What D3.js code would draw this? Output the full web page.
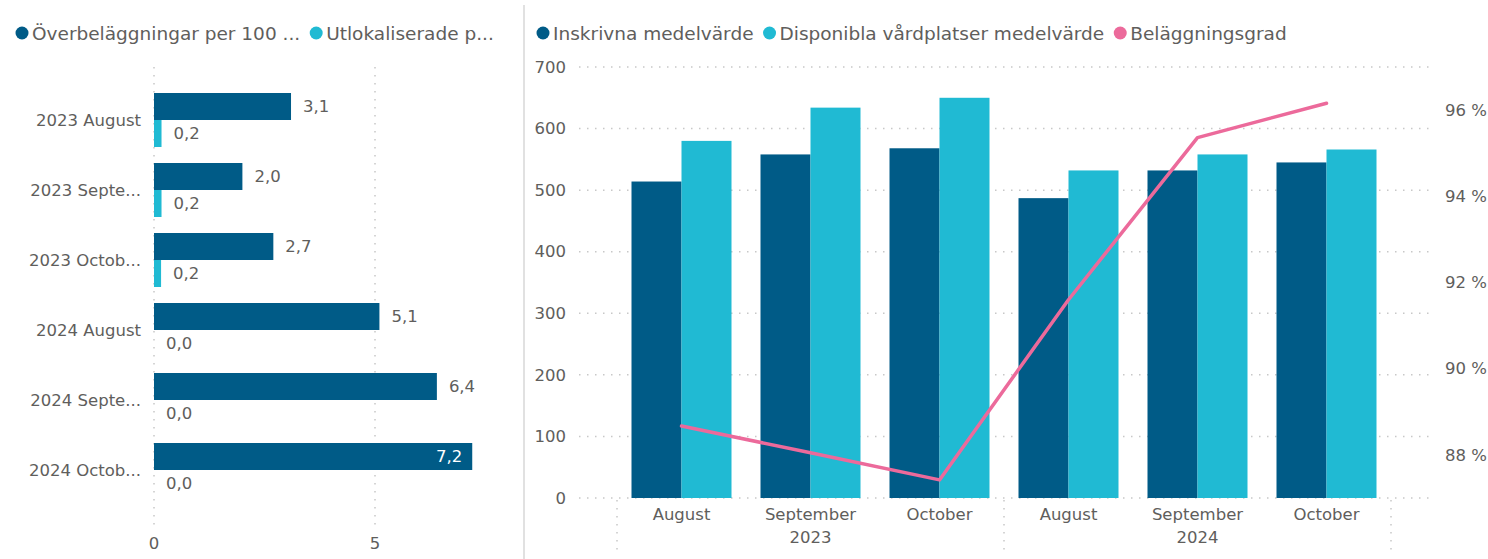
<!DOCTYPE html>
<html>
<head>
<meta charset="utf-8">
<script src="https://cdn.jsdelivr.net/npm/d3@7"></script>
<style>
  body { margin: 0; background: #fff; }
  svg { display: block; font-family: "DejaVu Sans", sans-serif; }
</style>
</head>
<body>
<svg id="chart" width="1488" height="559"></svg>
<script>
// vänster diagram
const leftCats = ["2023 August", "2023 Septe...", "2023 Octob...", "2024 August", "2024 Septe...", "2024 Octob..."];
const overbelaggningar = [3.1, 2.0, 2.7, 5.1, 6.4, 7.2];
const utlokaliserade = [0.17, 0.17, 0.16, 0.0, 0.0, 0.0];
const leftTicks = [0, 5];
const leftLegend = ["Överbeläggningar per 100 ...", "Utlokaliserade p..."];

// höger diagram
const years = ["2023", "2024"];
const months = ["August", "September", "October"];
const inskrivna = [514, 558, 568, 487, 532, 545];
const disponibla = [580, 634, 650, 532, 558, 566];
const belaggningsgrad = [88.67, 88.05, 87.42, 91.6, 95.36, 96.16];
const leftAxisTicks = [0, 100, 200, 300, 400, 500, 600, 700];
const rightAxisTicks = [88, 90, 92, 94, 96];
const rightLegend = ["Inskrivna medelvärde", "Disponibla vårdplatser medelvärde", "Beläggningsgrad"];

const dark = "#005b87", cyan = "#20bad3", pink = "#ec6a9b";
const textCol = "#605e5c", gridCol = "#c8c8c8";
const fs = "16.5px";

const se = d3.formatLocale({decimal: ",", thousands: " ", grouping: [3], currency: ["", " kr"]});
const fmt1 = se.format(".1f");

const svg = d3.select("#chart");

// panelavdelare
svg.append("line")
    .attr("x1", 524).attr("x2", 524)
    .attr("y1", 5).attr("y2", 559)
    .attr("stroke", "#e1e1e1")
    .attr("stroke-width", 2);

function legend(g, items, colors, x0) {
    let x = x0;
    items.forEach((t, i) => {
        g.append("circle")
            .attr("cx", x).attr("cy", 33).attr("r", 6.5)
            .attr("fill", colors[i]);
        const txt = g.append("text")
            .attr("x", x + 10).attr("y", 40)
            .attr("fill", textCol)
            .style("font-size", "18.5px")
            .text(t);
        x = x + 10 + txt.node().getComputedTextLength() + 16;
    });
}

// ---- vänster: liggande staplar ----
const left = svg.append("g");

const yL = d3.scaleBand()
    .domain(leftCats)
    .range([85, 505])
    .paddingInner(16 / 70)
    .paddingOuter(8 / 70);

const xL = d3.scaleLinear()
    .domain([0, 7.5])
    .range([154, 485.5]);

legend(left, leftLegend, [dark, cyan], 22);

left.append("g")
    .selectAll("line")
    .data(leftTicks)
    .join("line")
    .attr("x1", xL).attr("x2", xL)
    .attr("y1", 67).attr("y2", 528)
    .attr("stroke", gridCol)
    .attr("stroke-width", 1.5)
    .attr("stroke-dasharray", "1.5,6.5");

left.append("g")
    .selectAll("text")
    .data(leftTicks)
    .join("text")
    .attr("x", xL).attr("y", 549)
    .attr("text-anchor", "middle")
    .attr("fill", textCol)
    .style("font-size", fs)
    .text(d => d);

left.append("g")
    .selectAll("text")
    .data(leftCats)
    .join("text")
    .attr("x", 141)
    .attr("y", d => yL(d) + yL.bandwidth() / 2)
    .attr("dy", "0.35em")
    .attr("text-anchor", "end")
    .attr("fill", textCol)
    .style("font-size", fs)
    .text(d => d);

const half = yL.bandwidth() / 2;
const leftSeries = [
    {vals: overbelaggningar, color: dark, off: 0},
    {vals: utlokaliserade, color: cyan, off: half}
];

leftSeries.forEach(s => {
    left.append("g")
        .selectAll("rect")
        .data(s.vals)
        .join("rect")
        .attr("x", xL(0))
        .attr("y", (d, i) => yL(leftCats[i]) + s.off)
        .attr("width", d => xL(d) - xL(0))
        .attr("height", half)
        .attr("fill", s.color);

    left.append("g")
        .selectAll("text")
        .data(s.vals)
        .join("text")
        .attr("y", (d, i) => yL(leftCats[i]) + s.off + half / 2)
        .attr("dy", "0.35em")
        .attr("fill", textCol)
        .style("font-size", fs)
        .text(d => fmt1(d))
        .each(function (d) {
            const w = this.getComputedTextLength();
            const end = xL(d);
            if (end + 12 + w > 490) {
                // får inte plats, etiketten inuti stapeln
                d3.select(this)
                    .attr("x", end - 10)
                    .attr("text-anchor", "end")
                    .attr("fill", "#fff");
            } else {
                d3.select(this).attr("x", end + 12);
            }
        });
});

// ---- höger: kombinerat stapel + linje ----
const right = svg.append("g");

const keys = [];
years.forEach(y => months.forEach(m => keys.push(y + " " + m)));

const x = d3.scaleBand()
    .domain(keys)
    .range([617, 1391])
    .paddingInner(29 / 129)
    .paddingOuter(29 / 258);

const y = d3.scaleLinear()
    .domain([0, 700])
    .range([498, 67]);

const y2 = d3.scaleLinear()
    .domain([87, 97])
    .range([498, 67]);

legend(right, rightLegend, [dark, cyan, pink], 543);

right.append("g")
    .selectAll("line")
    .data(leftAxisTicks)
    .join("line")
    .attr("x1", 579).attr("x2", 1432)
    .attr("y1", y).attr("y2", y)
    .attr("stroke", gridCol)
    .attr("stroke-width", 1.5)
    .attr("stroke-dasharray", "1.5,6.5");

right.append("g")
    .selectAll("text")
    .data(leftAxisTicks)
    .join("text")
    .attr("x", 566).attr("y", y)
    .attr("dy", "0.35em")
    .attr("text-anchor", "end")
    .attr("fill", textCol)
    .style("font-size", fs)
    .text(d => d);

right.append("g")
    .selectAll("text")
    .data(rightAxisTicks)
    .join("text")
    .attr("x", 1445).attr("y", y2)
    .attr("dy", "0.35em")
    .attr("fill", textCol)
    .style("font-size", fs)
    .text(d => d + " %");

const bw = x.bandwidth() / 2;
[[inskrivna, dark, 0], [disponibla, cyan, bw]].forEach(([vals, color, off]) => {
    right.append("g")
        .selectAll("rect")
        .data(vals)
        .join("rect")
        .attr("x", (d, i) => x(keys[i]) + off)
        .attr("y", d => y(d))
        .attr("width", bw)
        .attr("height", d => y(0) - y(d))
        .attr("fill", color);
});

const line = d3.line()
    .x((d, i) => x(keys[i]) + x.bandwidth() / 2)
    .y(d => y2(d));

right.append("path")
    .datum(belaggningsgrad)
    .attr("d", line)
    .attr("fill", "none")
    .attr("stroke", pink)
    .attr("stroke-width", 3.5)
    .attr("stroke-linejoin", "round")
    .attr("stroke-linecap", "round");

// x-axel: månader och år
right.append("g")
    .selectAll("text")
    .data(keys)
    .join("text")
    .attr("x", d => x(d) + x.bandwidth() / 2)
    .attr("y", 520)
    .attr("text-anchor", "middle")
    .attr("fill", textCol)
    .style("font-size", fs)
    .text(d => d.split(" ")[1]);

right.append("g")
    .selectAll("text")
    .data(years)
    .join("text")
    .attr("x", d => x(d + " " + months[1]) + x.bandwidth() / 2)
    .attr("y", 543)
    .attr("text-anchor", "middle")
    .attr("fill", textCol)
    .style("font-size", fs)
    .text(d => d);

const seps = [x.range()[0], x.range()[0] + x.step() * months.length, x.range()[1]];
right.append("g")
    .selectAll("line")
    .data(seps)
    .join("line")
    .attr("x1", d => d).attr("x2", d => d)
    .attr("y1", 500).attr("y2", 552)
    .attr("stroke", gridCol)
    .attr("stroke-width", 1.5)
    .attr("stroke-dasharray", "1.5,6.5");
</script>
</body>
</html>
